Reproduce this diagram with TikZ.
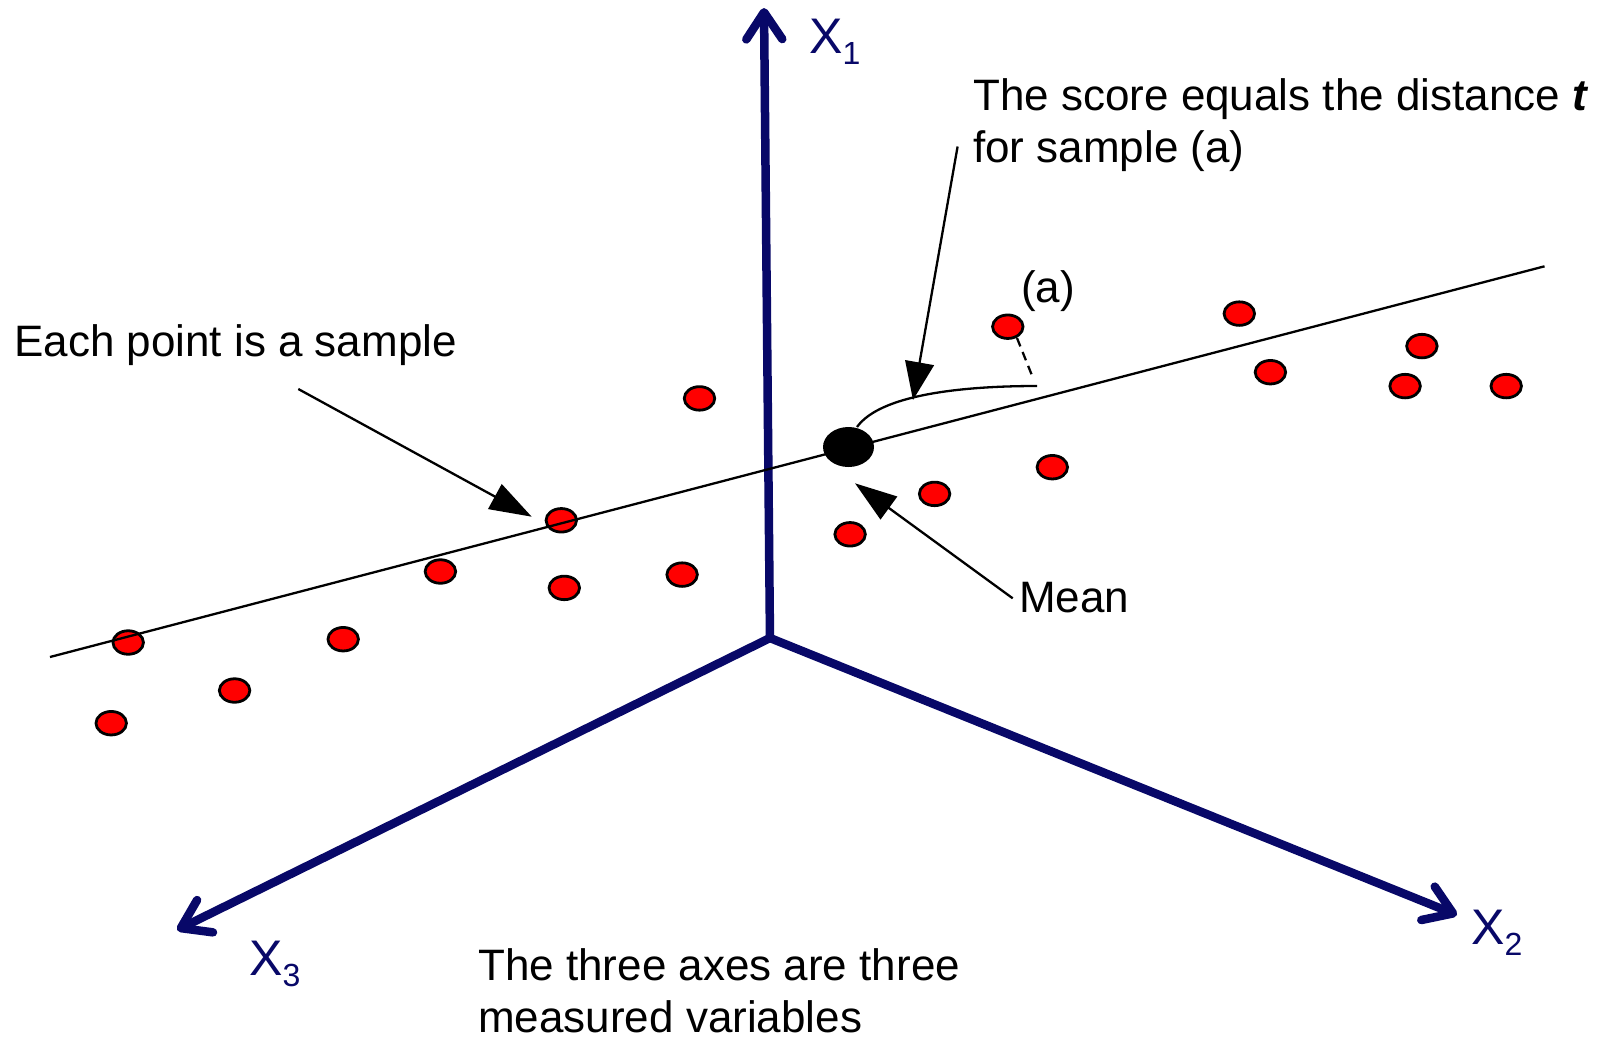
\documentclass[tikz,border=0pt]{standalone}
\usepackage{fontspec}
\setmainfont{Liberation Sans}
\usetikzlibrary{arrows.meta,shapes.geometric}
\definecolor{axisblue}{RGB}{8,8,104}
\definecolor{dotred}{RGB}{255,0,0}
\begin{document}
\begin{tikzpicture}[x=1pt,y=-1pt,
  axis/.style={line width=8.5pt, draw=axisblue, -{Straight Barb[length=27pt,width=36pt,round]}},
  dot/.style={ellipse, draw=black, line width=2.8pt, fill=dotred, minimum width=30.5pt, minimum height=23.5pt, inner sep=0pt},
  meanpt/.style={ellipse, fill=black, minimum width=51pt, minimum height=40pt, inner sep=0pt},
  lbl/.style={font=\fontsize{44}{52}\selectfont, anchor=base west, inner sep=0pt, align=left},
  axlbl/.style={font=\fontsize{50}{50}\selectfont, text=axisblue, anchor=base west, inner sep=0pt},
  ptr/.style={line width=2.3pt, -{Triangle[length=42pt,width=28pt]}},
  thin/.style={line width=2.3pt},
]
\useasboundingbox (0,0) rectangle (1606,1042);
\fill[white] (0,0) rectangle (1606,1042);

% axes
\coordinate (o) at (770,638);
\coordinate (o1) at (770,641);
\coordinate (x1) at (764,8);
\coordinate (x2) at (1457,915);
\coordinate (x3) at (177,930);
\draw[axis] (o1) -- (x1);
\draw[axis] (o) -- (x2);
\draw[axis] (o) -- (x3);

\newcommand{\axsub}[1]{\raisebox{-11pt}{\fontsize{32}{32}\selectfont #1}}
\node[axlbl] (lx1) at (809,53) {X\axsub{1}};
\node[axlbl] (lx2) at (1471,944) {X\axsub{2}};
\node[axlbl] (lx3) at (249,975) {X\axsub{3}};

% samples
\node[dot] (s1) at (699.5,398.4) {};
\node[dot] (sa) at (1007.8,326.7) {};
\node[dot] (s3) at (1239.3,313.6) {};
\node[dot] (s4) at (1421.9,346.1) {};
\node[dot] (s5) at (1270.4,372.2) {};
\node[dot] (s6) at (1405.1,386.1) {};
\node[dot] (s7) at (1506.2,386.1) {};
\node[dot] (s8) at (1052.3,467.2) {};
\node[dot] (s9) at (934.6,493.9) {};
\node[dot] (s10) at (850.1,534.3) {};
\node[dot] (s11) at (561.3,520.3) {};
\node[dot] (s12) at (440.4,571.5) {};
\node[dot] (s13) at (564.3,587.9) {};
\node[dot] (s14) at (682.1,574.6) {};
\node[dot] (s15) at (128.2,642.5) {};
\node[dot] (s16) at (343.2,639.2) {};
\node[dot] (s17) at (234.6,690.5) {};
\node[dot] (s18) at (111.2,723.2) {};

% mean
\node[meanpt] (mean) at (848.5,447) {};

% fitted line
\coordinate (lstart) at (50,657);
\coordinate (lend) at (1544.5,266.3);
\draw[thin] (lstart) -- (lend);

% distance arc and projection
\coordinate (arcstart) at (857,427);
\coordinate (arcend) at (1037,386);
\draw[thin] (arcstart) .. controls (880,395) and (960,386) .. (arcend);
\coordinate (dashtop) at (1017,338);
\coordinate (dashbot) at (1033,378);
\draw[thin, dash pattern=on 9pt off 6pt] (dashtop) -- (dashbot);

% texts (multi-line nodes: base = last line's baseline)
\node[lbl] (score) at (973,162) {The score equals the distance \textbf{\textit{t}}\\for sample (a)};
\node[lbl] (each) at (14,356) {Each point is a sample};
\node[lbl] (alab) at (1021,302) {(a)};
\node[lbl] (meantxt) at (1019,612) {Mean};
\node[lbl] (axes) at (478,1032) {The three axes are three\\measured variables};

% pointers
\coordinate (scoretail) at (957.6,146.5);
\coordinate (scoretip) at (913,400);
\draw[ptr, -{Triangle[length=38pt,width=29pt]}] (scoretail) -- (scoretip);
\coordinate (eachtail) at (298.3,389);
\coordinate (eachtip) at (531.7,516.7);
\draw[ptr] (eachtail) -- (eachtip);
\coordinate (meantail) at (1012.7,598.3);
\coordinate (meantip) at (855,483.3);
\draw[ptr] (meantail) -- (meantip);
\end{tikzpicture}
\end{document}
